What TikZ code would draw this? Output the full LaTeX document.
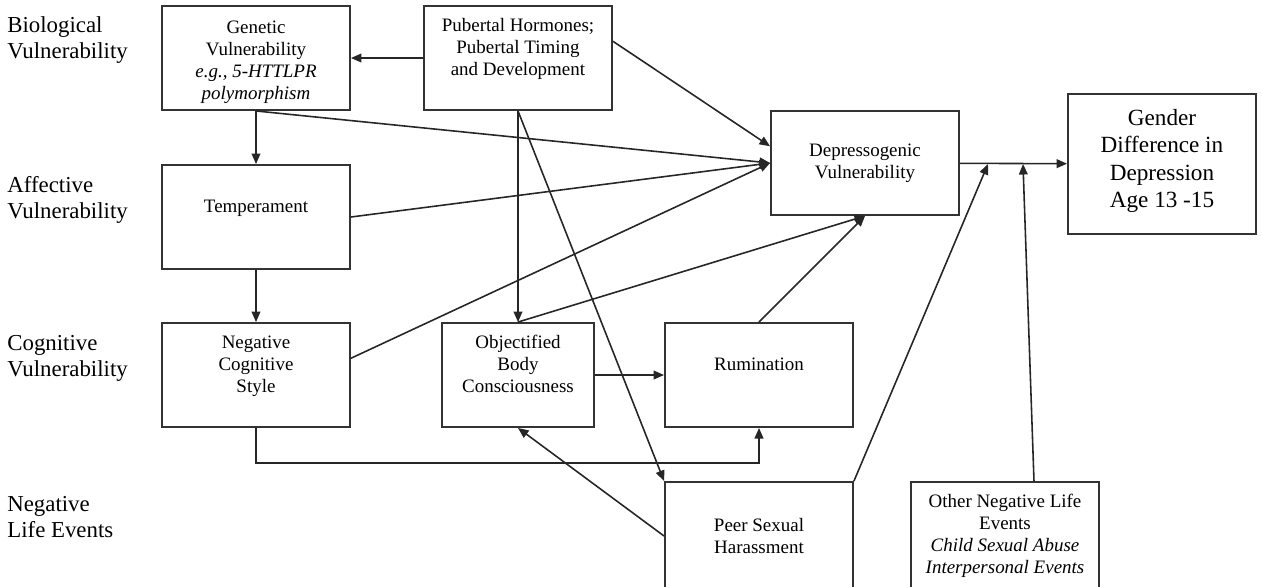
\documentclass[tikz,border=0pt]{standalone}
\usepackage{fontspec}
\setmainfont{Liberation Serif}
\usetikzlibrary{arrows.meta}
\newcommand{\lift}{\\\mbox{}}

\begin{document}
\begin{tikzpicture}[x=0.02cm, y=-0.02cm,
        box/.style={draw=black!80, line width=1.1pt, align=center, inner sep=2pt,
            minimum width=3.76cm, minimum height=2.08cm, font=\fontsize{10.8}{12.5}\selectfont},
        side/.style={anchor=west, align=left, inner sep=0pt, font=\fontsize{13}{14.7}\selectfont},
        arr/.style={draw=black!85, line width=0.9pt, -{Triangle[length=6pt,width=5pt]}}
    ]
    \useasboundingbox (0,0) rectangle (1262,586);

    % levels
    \node[side] (bio) at (7,40) {Biological\\Vulnerability};
    \node[side] (aff) at (7,200) {Affective\\Vulnerability};
    \node[side] (cog) at (7,358) {Cognitive\\Vulnerability};
    \node[side] (neg) at (7,517) {Negative\\Life Events};

    % boxes
    \node[box] (gen) at (256,58) {\mbox{}\\Genetic\\Vulnerability\\\textit{e.g., 5-HTTLPR}\\\textit{polymorphism}};
    \node[box] (pub) at (518,58) {Pubertal Hormones;\\Pubertal Timing\\and Development\lift};
    \node[box] (temp) at (256,217) {Temperament\lift};
    \node[box] (dep) at (865,163) {Depressogenic\\Vulnerability};
    \node[box, minimum height=2.8cm, font=\fontsize{13.2}{15.7}\selectfont] (gdr) at (1162,164)
        {Gender\\Difference in\\Depression\\Age 13 -15\\[-9.5pt]\mbox{}};
    \node[box] (ncs) at (256,375) {Negative\\Cognitive\\Style\lift};
    \node[box, minimum width=3.04cm] (obc) at (518,375) {Objectified\\Body\\Consciousness\lift};
    \node[box] (rum) at (759,375) {Rumination\lift};
    \node[box, minimum height=2.16cm] (psh) at (759,536) {Peer Sexual\\Harassment};
    \node[box, minimum height=2.16cm] (oth) at (1005,536) {Other Negative Life\\Events\\\textit{Child Sexual Abuse}\\\textit{Interpersonal Events}};

    \coordinate (j1) at (988,164);
    \coordinate (j2) at (1023,164);

    % paths
    \draw[arr] (pub) -- (gen);
    \draw[arr] (gen) -- (temp);
    \draw[arr] (temp) -- (ncs);
    \draw[arr] (gen.south) -- (dep.west);
    \draw[arr] (temp.east) -- (dep.west);
    \draw[arr] (ncs.10) -- (dep.west);
    \draw[arr] (pub.10) -- (dep.170);
    \draw[arr] (obc.north) -- (dep.south);
    \draw[arr] (rum.north) -- (dep.south);
    \draw[arr] (pub.south) -- (obc.north);
    \draw[arr] (pub.south) -- (psh.north west);
    \draw[arr] (obc) -- (rum);
    \draw[arr] (ncs.south) -- ++(0,35) -| (rum.south);
    \draw[arr] (psh.west) -- (obc.south);
    \draw[arr] (psh.north east) -- (j1);
    \draw[arr] ([xshift=0.58cm]oth.north) -- (j2);
    \draw[arr] (dep) -- (gdr);
\end{tikzpicture}
\end{document}
